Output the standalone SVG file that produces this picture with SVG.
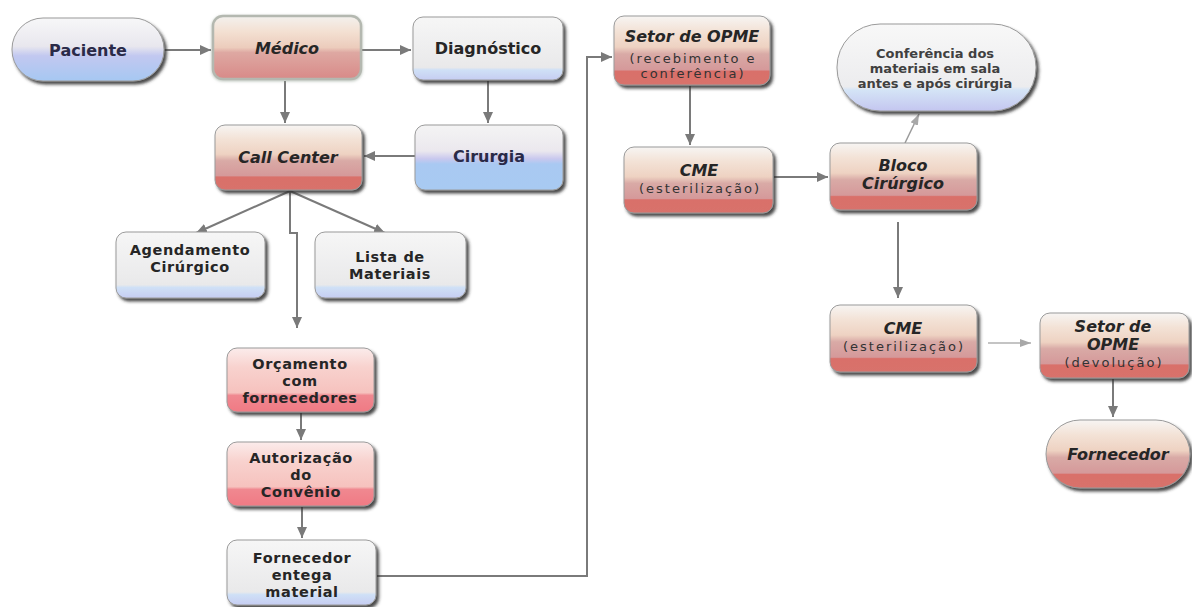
<svg xmlns="http://www.w3.org/2000/svg" width="1192" height="607" viewBox="0 0 1192 607">
<defs>
<linearGradient id="gRed" x1="0" y1="0" x2="0" y2="1">
<stop offset="0" stop-color="#f7f5f3"/>
<stop offset="0.22" stop-color="#f3e2d6"/>
<stop offset="0.45" stop-color="#eed2c2"/>
<stop offset="0.55" stop-color="#d9aaa6"/>
<stop offset="0.78" stop-color="#d5999a"/>
<stop offset="0.8" stop-color="#d9706a"/>
<stop offset="1" stop-color="#d8726c"/>
</linearGradient>
<linearGradient id="gMed" x1="0" y1="0" x2="0" y2="1">
<stop offset="0" stop-color="#f3f1ee"/>
<stop offset="0.25" stop-color="#f3e0d2"/>
<stop offset="0.5" stop-color="#ecccbc"/>
<stop offset="0.58" stop-color="#dea8a2"/>
<stop offset="1" stop-color="#d88a88"/>
</linearGradient>
<linearGradient id="gPac" x1="0" y1="0" x2="0" y2="1">
<stop offset="0" stop-color="#f7f7f8"/>
<stop offset="0.45" stop-color="#e8e7ee"/>
<stop offset="0.6" stop-color="#c2c8f0"/>
<stop offset="1" stop-color="#a6c8f2"/>
</linearGradient>
<linearGradient id="gCir" x1="0" y1="0" x2="0" y2="1">
<stop offset="0" stop-color="#f4f4f4"/>
<stop offset="0.4" stop-color="#ebe8ee"/>
<stop offset="0.52" stop-color="#c9c8ee"/>
<stop offset="0.6" stop-color="#a9c9f2"/>
<stop offset="1" stop-color="#a8caf2"/>
</linearGradient>
<linearGradient id="gWht" x1="0" y1="0" x2="0" y2="1">
<stop offset="0" stop-color="#f6f6f6"/>
<stop offset="0.8" stop-color="#e9e9ea"/>
<stop offset="0.84" stop-color="#cfe0f6"/>
<stop offset="1" stop-color="#c6cdf2"/>
</linearGradient>
<linearGradient id="gConf" x1="0" y1="0" x2="0" y2="1">
<stop offset="0" stop-color="#f8f8f8"/>
<stop offset="0.72" stop-color="#ececee"/>
<stop offset="0.76" stop-color="#d4e4f6"/>
<stop offset="1" stop-color="#c4c6f0"/>
</linearGradient>
<linearGradient id="gPink" x1="0" y1="0" x2="0" y2="1">
<stop offset="0" stop-color="#fbeceb"/>
<stop offset="0.3" stop-color="#f8d2ce"/>
<stop offset="0.7" stop-color="#f6c2be"/>
<stop offset="0.74" stop-color="#f08890"/>
<stop offset="1" stop-color="#f07a84"/>
</linearGradient>
<filter id="sh" x="-10%" y="-10%" width="125%" height="130%">
<feDropShadow dx="2.5" dy="3" stdDeviation="1.6" flood-color="#2a2a2a" flood-opacity="0.85"/>
</filter>
<filter id="glow" x="-10%" y="-15%" width="120%" height="130%">
<feDropShadow dx="0" dy="1" stdDeviation="1.5" flood-color="#8a9a8a" flood-opacity="0.6"/>
</filter>
<marker id="ah" markerWidth="12" markerHeight="12" viewBox="0 0 12 12" refX="11" refY="6" orient="auto" markerUnits="userSpaceOnUse">
<path d="M0,1 L11,6 L0,11 z" fill="#7a7a7a"/>
</marker>
<marker id="ahl" markerWidth="12" markerHeight="12" viewBox="0 0 12 12" refX="11" refY="6" orient="auto" markerUnits="userSpaceOnUse">
<path d="M0,2 L11,6 L0,10 z" fill="#a8a8a8"/>
</marker>
</defs>
<style>
.box{stroke:#9a9a9a;stroke-width:1;filter:url(#sh)}
.t{font-family:"DejaVu Sans",Verdana,sans-serif;font-size:16px;font-weight:bold;fill:#262626;text-anchor:middle}
.m{font-size:14.5px;letter-spacing:0.6px}
.ti{font-style:italic}
.nv{fill:#2a2a48}
.s{font-family:"DejaVu Sans",Verdana,sans-serif;font-size:13px;fill:#333333;text-anchor:middle;letter-spacing:2px}
.c{font-family:"DejaVu Sans",Verdana,sans-serif;font-size:13px;font-weight:bold;fill:#404040;text-anchor:middle}
.ln{stroke:#7a7a7a;stroke-width:2;fill:none}
</style>
<rect width="1192" height="607" fill="#ffffff"/>
<g id="connectors">
<line class="ln" x1="164" y1="50" x2="211" y2="50" marker-end="url(#ah)"/>
<line class="ln" x1="362" y1="50" x2="411" y2="50" marker-end="url(#ah)"/>
<line class="ln" x1="285" y1="81" x2="285" y2="123" marker-end="url(#ah)"/>
<line class="ln" x1="488" y1="81" x2="488" y2="123" marker-end="url(#ah)"/>
<line class="ln" x1="415" y1="156" x2="364" y2="156" marker-end="url(#ah)"/>
<line class="ln" x1="290" y1="191" x2="196" y2="233" marker-end="url(#ah)"/>
<line class="ln" x1="290" y1="191" x2="385" y2="233" marker-end="url(#ah)"/>
<path class="ln" d="M290,191 V233 H297 V328" marker-end="url(#ah)"/>
<line class="ln" x1="301" y1="413" x2="301" y2="440" marker-end="url(#ah)"/>
<line class="ln" x1="302" y1="507" x2="302" y2="538" marker-end="url(#ah)"/>
<path class="ln" d="M377,576 H587 V57 H612" marker-end="url(#ah)"/>
<line class="ln" x1="690" y1="86" x2="690" y2="145" marker-end="url(#ah)"/>
<line class="ln" x1="774" y1="177" x2="828" y2="177" marker-end="url(#ah)"/>
<line x1="905" y1="143" x2="919" y2="114" stroke="#9a9a9a" stroke-width="1.5" marker-end="url(#ahl)"/>
<line class="ln" x1="898" y1="222" x2="898" y2="298" marker-end="url(#ah)"/>
<line x1="988" y1="343" x2="1031" y2="343" stroke="#b0b0b0" stroke-width="1.5" marker-end="url(#ahl)"/>
<line class="ln" x1="1113" y1="379" x2="1113" y2="417" marker-end="url(#ah)"/>
</g>
<g id="paciente">
<rect class="box" x="12" y="18" width="152" height="63" rx="31" fill="url(#gPac)"/>
<text class="t nv" x="88" y="56">Paciente</text>
</g>
<g id="medico">
<rect x="213" y="16" width="148" height="63" rx="10" fill="url(#gMed)" stroke="#b4b8b0" stroke-width="2.5" filter="url(#glow)"/>
<text class="t ti" x="287" y="54">Médico</text>
</g>
<g id="diagnostico">
<rect class="box" x="413" y="17" width="150" height="63" rx="10" fill="url(#gWht)"/>
<text class="t" x="488" y="54">Diagnóstico</text>
</g>
<g id="callcenter">
<rect class="box" x="215" y="125" width="147" height="65" rx="10" fill="url(#gRed)"/>
<text class="t ti" x="288" y="163">Call Center</text>
</g>
<g id="cirurgia">
<rect class="box" x="415" y="125" width="148" height="65" rx="10" fill="url(#gCir)"/>
<text class="t nv" x="489" y="162">Cirurgia</text>
</g>
<g id="agendamento">
<rect class="box" x="116" y="232" width="149" height="66" rx="10" fill="url(#gWht)"/>
<text class="t m" x="190" y="255">Agendamento</text>
<text class="t m" x="190" y="272">Cirúrgico</text>
</g>
<g id="lista">
<rect class="box" x="315" y="232" width="151" height="66" rx="10" fill="url(#gWht)"/>
<text class="t m" x="390" y="262">Lista de</text>
<text class="t m" x="390" y="279">Materiais</text>
</g>
<g id="orcamento">
<rect class="box" x="227" y="348" width="147" height="64" rx="10" fill="url(#gPink)"/>
<text class="t m" x="300" y="369">Orçamento</text>
<text class="t m" x="300" y="386">com</text>
<text class="t m" x="300" y="403">fornecedores</text>
</g>
<g id="autorizacao">
<rect class="box" x="227" y="442" width="147" height="64" rx="10" fill="url(#gPink)"/>
<text class="t m" x="301" y="463">Autorização</text>
<text class="t m" x="301" y="480">do</text>
<text class="t m" x="301" y="497">Convênio</text>
</g>
<g id="fornecedor-entrega">
<rect class="box" x="227" y="540" width="149" height="65" rx="10" fill="url(#gWht)"/>
<text class="t m" x="302" y="563">Fornecedor</text>
<text class="t m" x="302" y="580">entega</text>
<text class="t m" x="302" y="597">material</text>
</g>
<g id="setor-opme-recebimento">
<rect class="box" x="614" y="16" width="156" height="69" rx="10" fill="url(#gRed)"/>
<text class="t ti" x="692" y="42">Setor de OPME</text>
<text class="s" x="693" y="63">(recebimento e</text>
<text class="s" x="693" y="78">conferência)</text>
</g>
<g id="cme1">
<rect class="box" x="624" y="147" width="149" height="66" rx="10" fill="url(#gRed)"/>
<text class="t ti" x="699" y="176">CME</text>
<text class="s" x="700" y="193">(esterilização)</text>
</g>
<g id="bloco">
<rect class="box" x="830" y="143" width="147" height="67" rx="10" fill="url(#gRed)"/>
<text class="t ti" x="903" y="171">Bloco</text>
<text class="t ti" x="903" y="189">Cirúrgico</text>
</g>
<g id="conferencia">
<rect class="box" x="837" y="24" width="199" height="87" rx="43" fill="url(#gConf)"/>
<text class="c" x="935" y="58">Conferência dos</text>
<text class="c" x="935" y="73">materiais em sala</text>
<text class="c" x="935" y="88">antes e após cirúrgia</text>
</g>
<g id="cme2">
<rect class="box" x="830" y="305" width="147" height="67" rx="10" fill="url(#gRed)"/>
<text class="t ti" x="903" y="334">CME</text>
<text class="s" x="904" y="351">(esterilização)</text>
</g>
<g id="setor-opme-devolucao">
<rect class="box" x="1040" y="313" width="149" height="65" rx="10" fill="url(#gRed)"/>
<text class="t ti" x="1113" y="332" font-size="14">Setor de</text>
<text class="t ti" x="1113" y="349.5" font-size="14">OPME</text>
<text class="s" x="1114" y="367" font-size="12.5" letter-spacing="1.5">(devolução)</text>
</g>
<g id="fornecedor">
<rect class="box" x="1046" y="420" width="144" height="68" rx="34" fill="url(#gRed)"/>
<text class="t ti" x="1118" y="460">Fornecedor</text>
</g>
</svg>
